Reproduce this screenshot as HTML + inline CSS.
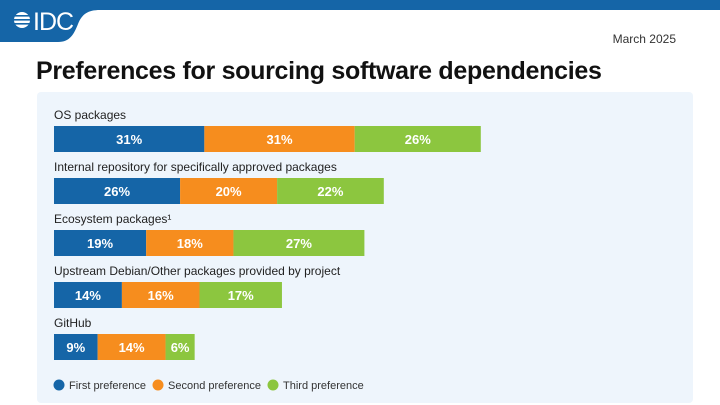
<!DOCTYPE html>
<html><head><meta charset="utf-8"><style>
body{margin:0;width:720px;height:405px;overflow:hidden;background:#fff;font-family:"Liberation Sans",sans-serif;position:relative}
.abs{position:absolute}
</style></head><body>
<svg class="abs" style="left:0;top:0" width="720" height="60">
<path d="M0 0H720V10H100C88 10 82 14 78 24C74 34 70 42 58 42H0Z" fill="#1565a7"/>
<g fill="#fff">
<circle cx="22" cy="20" r="8"/>
<rect x="12" y="15" width="20" height="1.6" fill="#1565a7"/><rect x="12" y="19" width="20" height="1.6" fill="#1565a7"/><rect x="12" y="23" width="20" height="1.6" fill="#1565a7"/>
</g>
<text x="33" y="30" fill="#fff" font-size="25" font-family="Liberation Sans" letter-spacing="-1">IDC</text>
</svg>
<div class="abs" style="right:44px;top:32px;font-size:12px;color:#333">March 2025</div>
<div class="abs" style="left:36px;top:57px;font-size:25px;font-weight:bold;color:#111;letter-spacing:-0.3px">Preferences for sourcing software dependencies</div>
<div class="abs" style="left:37px;top:92px;width:656px;height:311px;background:#eef5fc;border-radius:4px"></div>
<svg id="chart" class="abs" style="left:0;top:0" width="720" height="405"></svg>
<script>
const categories=["OS packages","Internal repository for specifically approved packages","Ecosystem packages¹","Upstream Debian/Other packages provided by project","GitHub"];
const firstPref=[31,26,19,14,9];
const secondPref=[31,20,18,16,14];
const thirdPref=[26,22,27,17,6];
const seriesNames=["First preference","Second preference","Third preference"];
const colors=["#1565a7","#f68d1e","#8cc63f"];
const svg=document.getElementById('chart');
const NS="http://www.w3.org/2000/svg";
const x0=54,pxPer=4.85;
function xs(v){return v*pxPer;}
function yRow(i){return 126+i*52;}
function mk(t,a){const e=document.createElementNS(NS,t);for(const k in a)e.setAttribute(k,a[k]);svg.appendChild(e);return e;}
const series=[firstPref,secondPref,thirdPref];
categories.forEach((c,i)=>{
  const lab=mk('text',{x:x0,y:yRow(i)-7,'font-size':12,fill:'#222','font-family':'Liberation Sans'});
  lab.textContent=c;
  
  
  let x=x0;
  series.forEach((s,j)=>{
    const w=xs(s[i]);
    const r=mk('rect',{x:x,y:yRow(i),width:w,height:26,fill:colors[j]});
    
    
    const t=mk('text',{x:x+w/2,y:yRow(i)+18,'font-size':13,'font-weight':'bold',fill:'#fff','text-anchor':'middle','font-family':'Liberation Sans'});
    t.textContent=s[i]+'%';
    
    
    x+=w;
  });
});
const lx=[59,158,273];
seriesNames.forEach((n,j)=>{
  const c=mk('circle',{cx:lx[j],cy:385,r:5.5,fill:colors[j]});
  
  
  const t=mk('text',{x:lx[j]+10,y:389,'font-size':11,fill:'#333','font-family':'Liberation Sans'});
  t.textContent=n;
  
  
});
</script>
</body></html>
